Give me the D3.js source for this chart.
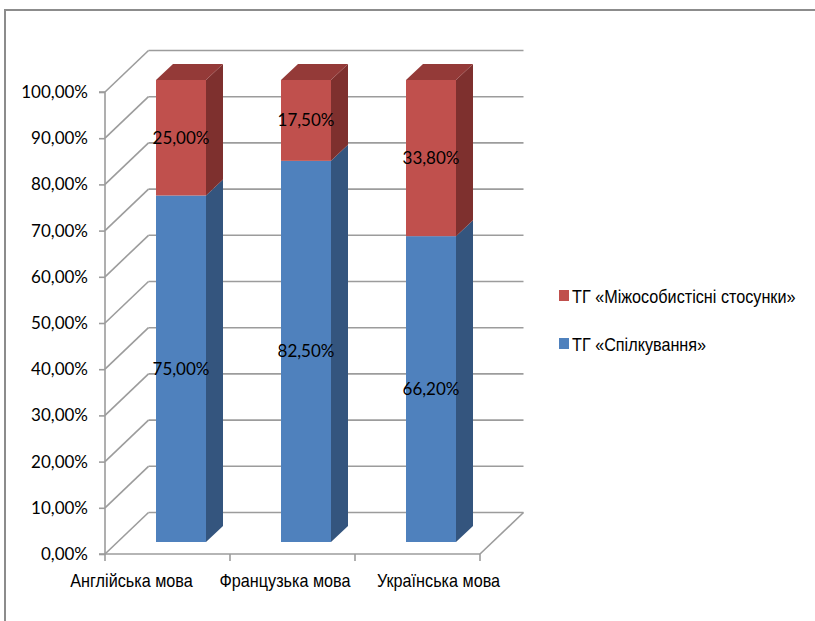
<!DOCTYPE html>
<html>
<head>
<meta charset="utf-8">
<script src="https://cdn.jsdelivr.net/npm/d3@7/dist/d3.min.js"></script>
<style>
  html, body { margin: 0; padding: 0; background: #fff; }
  svg { display: block; }
  .num { font-family: Lato, "Open Sans", sans-serif; font-size: 17px; fill: #000; }
  .narrow { font-family: "Liberation Sans", Arial, sans-serif; font-size: 18px; fill: #000; }
</style>
</head>
<body>
<script>
// Share of each thematic group per language course (percent)
const categories = ["Англійська мова", "Французька мова", "Українська мова"];
const seriesNames = ["ТГ «Спілкування»", "ТГ «Міжособистісні стосунки»"];
const spilkuvannya = [75.0, 82.5, 66.2];
const mizhosobysti = [25.0, 17.5, 33.8];
const yTicks = [0, 10, 20, 30, 40, 50, 60, 70, 80, 90, 100];

const W = 815, H = 621;
const svg = d3.select("body").append("svg").attr("width", W).attr("height", H);

// narrow-looking text: a sans face squeezed horizontally around its anchor point
const NARROW = 0.9;
function narrowText(parent, px, py, anchor, str) {
  return parent.append("text").attr("class", "narrow")
    .attr("transform", `translate(${px},${py}) scale(${NARROW},1)`)
    .attr("text-anchor", anchor)
    .text(str);
}

// outer chart frame
svg.append("rect")
  .attr("x", 5).attr("y", 10).attr("width", W + 20).attr("height", H + 20)
  .attr("fill", "#fff").attr("stroke", "#8c8c8c").attr("stroke-width", 2);

// front plane scales
const y = d3.scaleLinear().domain([0, 100]).range([554, 92]);
const x = d3.scaleBand().domain(categories).range([105, 480]);
const labelX = d3.scalePoint().domain(categories).range([131.5, 438.5]);

// 3D depth of the plot box and of the bars
const wall = { dx: 43.5, dy: -41.5 };
const barShift = { dx: 13.5, dy: -12 };
const barDepth = { dx: 17, dy: -16 };
const barW = 50;

const fmt = v => d3.format(".2f")(v).replace(".", ",") + "%";

const gridColor = "#9c9c9c";
const grid = svg.append("g").attr("stroke", gridColor).attr("stroke-width", 1.6).attr("fill", "none");

// side wall diagonals and back wall gridlines
yTicks.forEach(t => {
  const yf = y(t);
  grid.append("line")
    .attr("x1", x.range()[0]).attr("y1", yf)
    .attr("x2", x.range()[0] + wall.dx).attr("y2", yf + wall.dy);
  grid.append("line")
    .attr("x1", x.range()[0] + wall.dx).attr("y1", yf + wall.dy)
    .attr("x2", x.range()[1] + wall.dx).attr("y2", yf + wall.dy);
});
// floor right edge
grid.append("line")
  .attr("x1", x.range()[1]).attr("y1", y(0))
  .attr("x2", x.range()[1] + wall.dx).attr("y2", y(0) + wall.dy);

// y axis (front edge of side wall)
const yAxis = d3.axisLeft(y).tickValues(yTicks).tickSize(6).tickPadding(11).tickFormat(fmt);
const ya = svg.append("g").attr("transform", `translate(${x.range()[0]},0)`).call(yAxis);
ya.select(".domain").attr("stroke", gridColor).attr("stroke-width", 1.6).attr("d", `M-6,${y(100)}H0V${y(0)}H-6`);
ya.selectAll(".tick line").attr("stroke", gridColor).attr("stroke-width", 1.6);
ya.selectAll(".tick text").attr("class", "num").attr("fill", "#000");

// x axis (front edge of floor) with ticks at category boundaries
const xa = svg.append("g");
xa.append("line")
  .attr("x1", x.range()[0]).attr("x2", x.range()[1])
  .attr("y1", y(0)).attr("y2", y(0))
  .attr("stroke", gridColor).attr("stroke-width", 1.6);
const bounds = categories.map(c => x(c)).concat([x.range()[1]]);
xa.selectAll("line.tk").data(bounds).join("line").attr("class", "tk")
  .attr("x1", d => d).attr("x2", d => d)
  .attr("y1", y(0)).attr("y2", y(0) + 7)
  .attr("stroke", gridColor).attr("stroke-width", 1.6);
categories.forEach(c => narrowText(xa, labelX(c), 587, "middle", c));

// stacked 3D columns
const series = [
  { name: seriesNames[0], values: spilkuvannya, front: "#4f81bd", side: "#34557e", top: "#3f6797" },
  { name: seriesNames[1], values: mizhosobysti, front: "#c0504d", side: "#7e302e", top: "#943a38" }
];
const stack = d3.stack().keys([0, 1]).value((d, k) => series[k].values[d]);
const layers = stack(d3.range(categories.length));

const yb = v => y(v) + barShift.dy;
const bars = svg.append("g");
layers.forEach((layer, k) => {
  const s = series[k];
  layer.forEach((seg, i) => {
    const x0 = x(categories[i]) + x.bandwidth() / 2 + barShift.dx - barW / 2;
    const x1 = x0 + barW;
    const yLo = yb(seg[0]), yHi = yb(seg[1]);
    bars.append("path")
      .attr("d", `M${x1},${yLo}L${x1 + barDepth.dx},${yLo + barDepth.dy}L${x1 + barDepth.dx},${yHi + barDepth.dy}L${x1},${yHi}Z`)
      .attr("fill", s.side);
    bars.append("rect")
      .attr("x", x0).attr("y", yHi).attr("width", barW).attr("height", yLo - yHi)
      .attr("fill", s.front);
    if (k === layers.length - 1) {
      bars.append("path")
        .attr("d", `M${x0},${yHi}L${x1},${yHi}L${x1 + barDepth.dx},${yHi + barDepth.dy}L${x0 + barDepth.dx},${yHi + barDepth.dy}Z`)
        .attr("fill", s.top);
    }
  });
});

// value labels in the middle of each segment
layers.forEach((layer, k) => {
  layer.forEach((seg, i) => {
    const cx = x(categories[i]) + x.bandwidth() / 2 + barShift.dx;
    svg.append("text").attr("class", "num")
      .attr("x", cx).attr("y", (yb(seg[0]) + yb(seg[1])) / 2)
      .attr("text-anchor", "middle").attr("dy", "0.35em")
      .text(fmt(series[k].values[i]));
  });
});

// legend (top series listed first)
const legend = svg.append("g");
[series[1], series[0]].forEach((s, j) => {
  const gy = 290 + j * 48;
  legend.append("rect").attr("x", 559).attr("y", gy).attr("width", 10).attr("height", 11).attr("fill", s.front);
  narrowText(legend, 572, gy + 13, "start", s.name);
});
</script>
</body>
</html>
